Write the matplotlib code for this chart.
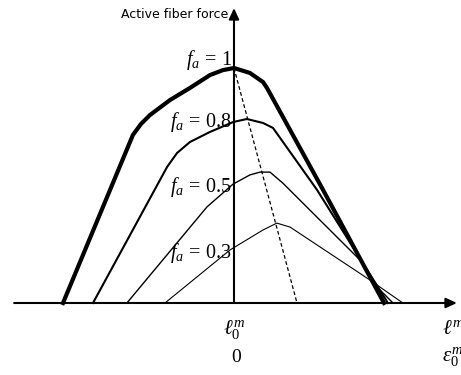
import matplotlib
matplotlib.use("Agg")
import matplotlib.pyplot as plt

plt.rcParams["mathtext.fontset"] = "custom"
plt.rcParams["mathtext.rm"] = "Liberation Serif"
plt.rcParams["mathtext.it"] = "Liberation Serif:italic"

# normalised fiber length (l / l0) and active force for each activation level
len_f10 = [0.430, 0.663, 0.690, 0.720, 0.787, 0.853, 0.920, 0.963, 1.000, 1.053, 1.097, 1.110, 1.297, 1.500]
frc_f10 = [0.000, 0.715, 0.762, 0.800, 0.864, 0.915, 0.970, 0.991, 1.000, 0.979, 0.940, 0.915, 0.481, 0.000]

len_f08 = [0.530, 0.777, 0.810, 0.853, 0.920, 0.997, 1.043, 1.097, 1.130, 1.277, 1.513]
frc_f08 = [0.000, 0.579, 0.638, 0.685, 0.728, 0.770, 0.783, 0.766, 0.745, 0.481, 0.000]

len_f05 = [0.643, 0.910, 0.997, 1.053, 1.087, 1.120, 1.163, 1.420, 1.487, 1.530]
frc_f05 = [0.000, 0.409, 0.506, 0.545, 0.557, 0.557, 0.510, 0.183, 0.055, 0.000]

len_f03 = [0.770, 0.987, 1.097, 1.143, 1.187, 1.453, 1.510, 1.563]
frc_f03 = [0.000, 0.226, 0.311, 0.340, 0.323, 0.098, 0.047, 0.000]

# locus of the optimal fiber length as activation drops
peak_len = [1.000, 1.210]
peak_frc = [1.000, 0.000]

curve_labels = [r"$f_{a}\,=\,1$", r"$f_{a}\,=\,0.8$", r"$f_{a}\,=\,0.5$", r"$f_{a}\,=\,0.3$"]
label_heights = [1.013, 0.749, 0.472, 0.191]

fig = plt.figure(figsize=(4.61, 3.75), dpi=100)
ax = fig.add_axes([0, 0, 1, 1])
ax.set_xlim(0.22, 1.7567)
ax.set_ylim(-0.3064, 1.2894)
ax.axis("off")

ax.plot(len_f10, frc_f10, color="black", lw=3.0, solid_joinstyle="round")
ax.plot(len_f08, frc_f08, color="black", lw=1.5, solid_joinstyle="round")
ax.plot(len_f05, frc_f05, color="black", lw=1.0, solid_joinstyle="round")
ax.plot(len_f03, frc_f03, color="black", lw=0.8, solid_joinstyle="round")
ax.plot(peak_len, peak_frc, color="black", lw=0.9, ls=(0, (3, 2)))

# axes with arrow heads
arrow = dict(arrowstyle="-|>,head_length=0.65,head_width=0.3", lw=1.5,
             color="black", shrinkA=0, shrinkB=0)
ax.annotate("", xy=(1.743, 0), xytext=(0.267, 0), arrowprops=arrow)
ax.annotate("", xy=(1.0, 1.255), xytext=(1.0, 0), arrowprops=arrow)

ax.text(0.98, 1.226, "Active fiber force", fontsize=9, ha="right", va="center",
        family="DejaVu Sans")

for txt, yy in zip(curve_labels, label_heights):
    ax.text(0.993, yy, txt, fontsize=14.5, ha="right", va="baseline")

ax.text(1.0, -0.065, r"$\ell_0^m$", fontsize=15, ha="center", va="top")
ax.text(1.01, -0.25, r"$0$", fontsize=14, ha="center", va="baseline")
ax.text(1.693, -0.065, r"$\ell^m$", fontsize=15, ha="left", va="top")
ax.text(1.693, -0.25, r"$\varepsilon_0^m$", fontsize=15, ha="left", va="baseline")

fig.savefig("out.png", dpi=100)
